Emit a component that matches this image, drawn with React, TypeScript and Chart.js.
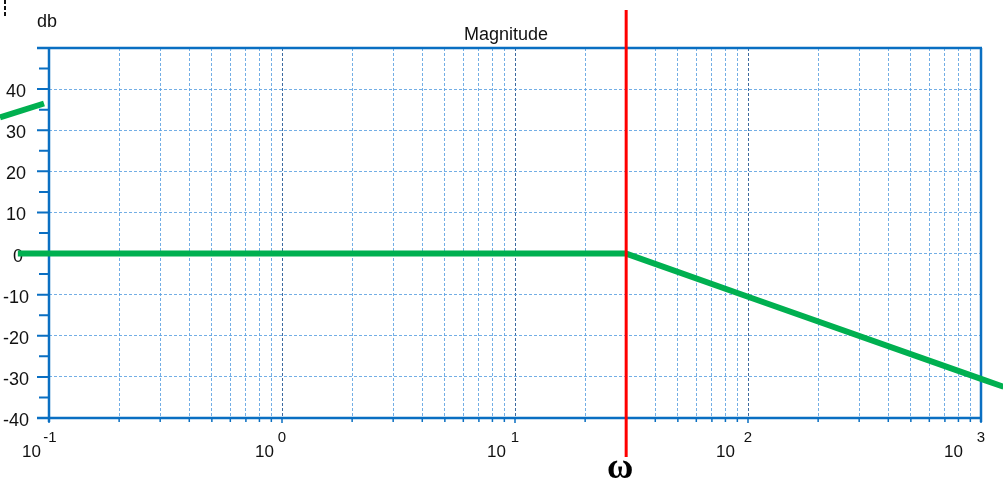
import { useEffect, useRef } from "react";
import { Chart, registerables } from "chart.js";

Chart.register(...registerables);

// ---- data ----
const flatOmega = [0.0735, 30];
const flatDb = [0, 0];
const slopeOmega = [30, 100, 1000, 1250];
const slopeDb = [0, -10.5, -30.5, -32.4];
const riseOmega = [0.0616, 0.0952];
const riseDb = [33.1, 36.5];
const cornerOmega = 30;

const decadeValues = [0.1, 1, 10, 100, 1000];
const decadeExponents = ["-1", "0", "1", "2", "3"];
const decadeBaseOffsets = [8, 8, 9, 13, 18];
const minorMultipliers = [2, 3, 4, 5, 6, 7, 8, 9];
const dbLabels = [-40, -30, -20, -10, 0, 10, 20, 30, 40];
const dbMinor = [-35, -25, -15, -5, 5, 15, 25, 35, 45];

const axisBlue = "#0a6fc2";
const gridLight = "rgba(90,160,225,0.85)";
const gridDark = "rgba(40,90,150,0.9)";
const green = "#00b050";

function gridValues(): number[] {
  const out: number[] = [];
  decadeValues.forEach((d, i) => {
    out.push(d);
    if (i < decadeValues.length - 1) minorMultipliers.forEach((m) => out.push(d * m));
  });
  return out;
}

function isDecade(v: number) {
  return decadeValues.some((d) => Math.abs(d - v) / d < 1e-6);
}

const framePlugin = {
  id: "frame",
  beforeDatasetsDraw(chart: any) {
    const ctx = chart.ctx as CanvasRenderingContext2D;
    const { left, right, top, bottom } = chart.chartArea;
    const xs = chart.scales.x;
    const ys = chart.scales.y;
    ctx.save();
    ctx.strokeStyle = axisBlue;
    ctx.lineWidth = 2.5;
    ctx.setLineDash([]);
    ctx.beginPath();
    ctx.moveTo(left - 12, top);
    ctx.lineTo(right + 1, top);
    ctx.moveTo(left - 12, bottom);
    ctx.lineTo(right + 1, bottom);
    ctx.moveTo(left, top);
    ctx.lineTo(left, bottom + 4);
    ctx.moveTo(right, top);
    ctx.lineTo(right, bottom + 4);
    ctx.stroke();
    // y ticks
    ctx.lineWidth = 2;
    ctx.beginPath();
    dbLabels.forEach((v) => {
      const y = ys.getPixelForValue(v);
      ctx.moveTo(left - 12, y);
      ctx.lineTo(left, y);
    });
    dbMinor.forEach((v) => {
      const y = ys.getPixelForValue(v);
      ctx.moveTo(left - 10, y);
      ctx.lineTo(left, y);
    });
    ctx.stroke();
    // x ticks
    ctx.lineWidth = 1.5;
    ctx.beginPath();
    gridValues().forEach((v) => {
      const x = xs.getPixelForValue(v);
      ctx.moveTo(x, bottom);
      ctx.lineTo(x, bottom + (isDecade(v) ? 5 : 4));
    });
    ctx.stroke();

    // y labels
    ctx.fillStyle = "#111";
    ctx.font = "18px 'Liberation Sans', Arial, sans-serif";
    ctx.textAlign = "center";
    ctx.textBaseline = "alphabetic";
    dbLabels.forEach((v) => {
      const y = ys.getPixelForValue(v);
      ctx.fillText(String(v), v === 0 ? 18 : 16, y + 8);
    });
    // x labels: 10^n
    decadeValues.forEach((v, i) => {
      const x = xs.getPixelForValue(v);
      ctx.font = "17px 'Liberation Sans', Arial, sans-serif";
      ctx.textAlign = "right";
      ctx.fillText("10", x - decadeBaseOffsets[i], 457);
      ctx.font = "15px 'Liberation Sans', Arial, sans-serif";
      ctx.textAlign = "center";
      ctx.fillText(decadeExponents[i], x + (i === 0 ? 1 : 0), 442);
    });
    // unit + title
    ctx.font = "18px 'Liberation Sans', Arial, sans-serif";
    ctx.textAlign = "left";
    ctx.fillText("db", 37, 27);
    ctx.font = "18px 'Liberation Sans', Arial, sans-serif";
    ctx.textAlign = "center";
    ctx.fillText("Magnitude", 506, 40);
    // small dashed mark at top-left
    ctx.strokeStyle = "#111";
    ctx.lineWidth = 2;
    ctx.setLineDash([4, 2]);
    ctx.beginPath();
    ctx.moveTo(5, 0);
    ctx.lineTo(5, 17);
    ctx.stroke();
    ctx.restore();
  },
  afterDatasetsDraw(chart: any) {
    const ctx = chart.ctx as CanvasRenderingContext2D;
    const xs = chart.scales.x;
    const x = xs.getPixelForValue(cornerOmega);
    ctx.save();
    ctx.strokeStyle = "#ff0000";
    ctx.lineWidth = 3;
    ctx.beginPath();
    ctx.moveTo(x, 10);
    ctx.lineTo(x, 457);
    ctx.stroke();
    ctx.fillStyle = "#000";
    ctx.font = "bold 36px 'Liberation Serif', 'Times New Roman', serif";
    ctx.textAlign = "center";
    ctx.textBaseline = "alphabetic";
    ctx.fillText("ω", x - 6, 478);
    ctx.restore();
  },
};

export default function App() {
  const ref = useRef<HTMLCanvasElement | null>(null);
  useEffect(() => {
    if (!ref.current) return;
    // points are listed from right to left so that every point (also the ones
    // beyond the axis range) is drawn
    const toPts = (xs: number[], ys: number[]) =>
      xs.map((x, i) => ({ x, y: ys[i] })).reverse();
    const lineDs = (label: string, data: any[]) => ({
      label,
      data,
      borderColor: green,
      borderWidth: 6,
      pointRadius: 0,
      fill: false,
      tension: 0,
      clip: false as any,
      borderCapStyle: "butt" as const,
    });
    const chart = new Chart(ref.current, {
      type: "line",
      data: {
        datasets: [
          lineDs("flat", toPts(flatOmega, flatDb)),
          lineDs("slope", toPts(slopeOmega, slopeDb)),
          lineDs("rise", toPts(riseOmega, riseDb)),
        ],
      },
      options: {
        animation: false,
        responsive: false,
        devicePixelRatio: 1,
        layout: { padding: { left: 49, right: 22, top: 48, bottom: 64 } },
        plugins: { legend: { display: false }, tooltip: { enabled: false }, title: { display: false } },
        scales: {
          x: {
            type: "logarithmic",
            min: 0.1,
            max: 1000,
            afterBuildTicks: (scale: any) => {
              scale.ticks = gridValues().map((v) => ({ value: v, major: isDecade(v) }));
            },
            ticks: { display: false },
            grid: {
              drawTicks: false,
              lineWidth: 1,
              color: (c: any) => (c.tick && isDecade(c.tick.value) ? gridDark : gridLight),
            },
            border: { display: false, dash: [3, 2] },
          },
          y: {
            type: "linear",
            min: -40,
            max: 50,
            ticks: { display: false, stepSize: 10 },
            grid: { drawTicks: false, lineWidth: 1, color: gridLight },
            border: { display: false, dash: [3, 2] },
          },
        },
      },
      plugins: [framePlugin],
    });
    return () => chart.destroy();
  }, []);
  return (
    <div style={{ position: "fixed", left: 0, top: 0, width: 1003, height: 482, background: "#fff" }}>
      <canvas ref={ref} width={1003} height={482} style={{ width: 1003, height: 482 }} />
    </div>
  );
}
